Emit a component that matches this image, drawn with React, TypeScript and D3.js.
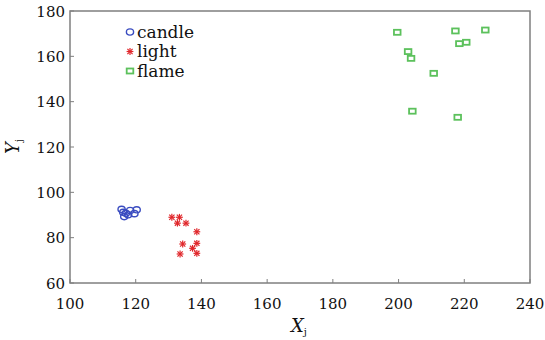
import React from "react";
import * as d3 from "d3";

const candle: [number, number][] = [
  [115.7, 92.5], [117.0, 90.8], [118.3, 92.0], [120.3, 92.3],
  [116.5, 89.3], [119.6, 90.6], [117.7, 90.1], [116.2, 91.2],
];
const light: [number, number][] = [
  [131.0, 89.0], [133.3, 89.0], [132.7, 86.4], [135.3, 86.4],
  [138.6, 82.6], [134.3, 77.2], [138.6, 77.5], [137.3, 75.3],
  [138.6, 73.1], [133.5, 72.8],
];
const flame: [number, number][] = [
  [199.6, 170.6], [217.3, 171.2], [226.4, 171.6], [218.5, 165.6],
  [220.6, 166.2], [202.9, 162.1], [203.8, 159.1], [210.7, 152.5],
  [204.2, 135.8], [218.0, 133.1],
];
const xTicks = [100, 120, 140, 160, 180, 200, 220, 240];
const yTicks = [60, 80, 100, 120, 140, 160, 180];
const legendItems = ["candle", "light", "flame"];

const BLUE = "#3a4cc0";
const RED = "#e0262a";
const GREEN = "#5cc15c";
const AXIS = "#7f7f7f";
const FONT = "'DejaVu Serif', serif";

const L = 70, R = 530, T = 11, B = 283;

function Circle({ x, y }: { x: number; y: number }) {
  return <ellipse cx={x} cy={y} rx={3.6} ry={3.1} fill="none" stroke={BLUE} strokeWidth={1.4} />;
}
function Star({ x, y }: { x: number; y: number }) {
  const s = 3.4, d = 2.6;
  return (
    <g stroke={RED} strokeWidth={1.2}>
      <line x1={x - s} y1={y} x2={x + s} y2={y} />
      <line x1={x} y1={y - s} x2={x} y2={y + s} />
      <line x1={x - d} y1={y - d} x2={x + d} y2={y + d} />
      <line x1={x - d} y1={y + d} x2={x + d} y2={y - d} />
    </g>
  );
}
function Square({ x, y }: { x: number; y: number }) {
  return <rect x={x - 3.3} y={y - 2.5} width={6.6} height={5} fill="none" stroke={GREEN} strokeWidth={1.8} />;
}

export default function App() {
  const x = d3.scaleLinear().domain([100, 240]).range([L, R]);
  const y = d3.scaleLinear().domain([60, 180]).range([B, T]);
  const markers = [Circle, Star, Square];
  return (
    <svg width={545} height={340} style={{ position: "absolute", left: 0, top: 0 }} fontFamily={FONT}>
      <rect width={545} height={340} fill="#fff" />
      {xTicks.map((t) => (
        <g key={"x" + t}>
          <line x1={x(t)} x2={x(t)} y1={B} y2={B - 4} stroke={AXIS} strokeWidth={1} />
          <text x={x(t)} y={309} fontSize={15} textAnchor="middle" fill="#111">{t}</text>
        </g>
      ))}
      {yTicks.map((t) => (
        <g key={"y" + t}>
          <line x1={L} x2={L + 4} y1={y(t)} y2={y(t)} stroke={AXIS} strokeWidth={1} />
          <text x={65} y={y(t) + 5.5} fontSize={15} textAnchor="end" fill="#111">{t}</text>
        </g>
      ))}
      <rect x={L} y={T} width={R - L} height={B - T} fill="none" stroke={AXIS} strokeWidth={1.5} />
      {candle.map((p, i) => <Circle key={"c" + i} x={x(p[0])} y={y(p[1])} />)}
      {light.map((p, i) => <Star key={"l" + i} x={x(p[0])} y={y(p[1])} />)}
      {flame.map((p, i) => <Square key={"f" + i} x={x(p[0])} y={y(p[1])} />)}
      {legendItems.map((name, i) => {
        const M = markers[i];
        const cy = 32 + i * 19.5;
        return (
          <g key={name}>
            <M x={130} y={cy} />
            <text x={137} y={cy + 5.5} fontSize={17} fill="#111">{name}</text>
          </g>
        );
      })}
      <text x={291} y={332} fontSize={18} fontStyle="italic" fill="#111">
        X<tspan fontSize={10} fontStyle="normal" dy={3}>j</tspan>
      </text>
      <text transform="translate(19,154) rotate(-90)" fontSize={18} fontStyle="italic" fill="#111">
        Y<tspan fontSize={10} fontStyle="normal" dy={3}>j</tspan>
      </text>
    </svg>
  );
}
